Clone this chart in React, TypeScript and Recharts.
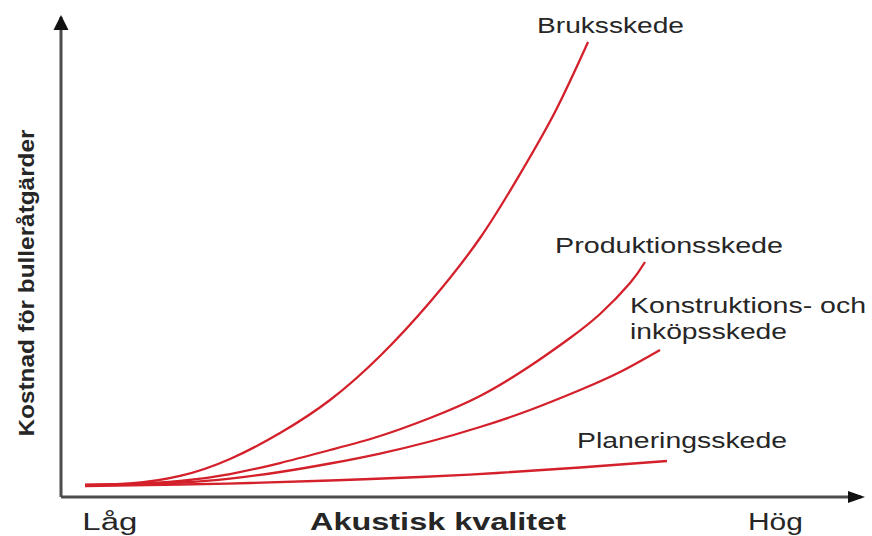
import React from 'react';
import { LineChart, Line, XAxis, YAxis, ReferenceDot, LabelList, Label } from 'recharts';

// Akustisk kvalitet (q) vs kostnad (c), relative units 0..100
const bruksskede = [
  { q: 3, c: 2.5 }, { q: 8.63, c: 2.81 }, { q: 14.88, c: 4.38 }, { q: 21.13, c: 7.92 },
  { q: 27.38, c: 13.33 }, { q: 33.63, c: 20.21 }, { q: 39.88, c: 29.38 }, { q: 46.13, c: 40.63 },
  { q: 52.38, c: 53.96 }, { q: 57.38, c: 67.29 }, { q: 61.75, c: 80.21 }, { q: 65.88, c: 94.79 },
];
const produktionsskede = [
  { q: 3, c: 2.5 }, { q: 8.63, c: 2.71 }, { q: 14.88, c: 3.33 }, { q: 21.13, c: 4.79 },
  { q: 27.38, c: 7.08 }, { q: 33.63, c: 9.79 }, { q: 39.88, c: 12.71 }, { q: 46.13, c: 16.46 },
  { q: 52.38, c: 21.04 }, { q: 58.63, c: 27.29 }, { q: 63.63, c: 33.13 }, { q: 67.38, c: 38.13 },
  { q: 71.13, c: 44.58 }, { q: 73.0, c: 48.96 },
];
const konstruktionsskede = [
  { q: 3, c: 2.5 }, { q: 8.63, c: 2.6 }, { q: 14.88, c: 3.02 }, { q: 21.13, c: 3.85 },
  { q: 27.38, c: 5.21 }, { q: 33.63, c: 6.98 }, { q: 39.88, c: 9.06 }, { q: 46.13, c: 11.56 },
  { q: 52.38, c: 14.58 }, { q: 58.63, c: 18.13 }, { q: 64.88, c: 22.29 }, { q: 69.88, c: 26.04 },
  { q: 74.88, c: 30.63 },
];
const planeringsskede = [
  { q: 3, c: 2.29 }, { q: 14.88, c: 2.6 }, { q: 23.63, c: 2.92 }, { q: 33.63, c: 3.44 },
  { q: 44.88, c: 4.17 }, { q: 54.5, c: 5.0 }, { q: 64.88, c: 6.15 }, { q: 75.75, c: 7.5 },
];

const seriesLabels = [
  ['Bruksskede'],
  ['Produktionsskede'],
  ['Konstruktions- och', 'inköpsskede'],
  ['Planeringsskede'],
];
const xTickValues = [6.1, 89.3];
const xTickLabels = ['Låg', 'Hög'];
const xAxisTitle = 'Akustisk kvalitet';
const yAxisTitle = 'Kostnad för bulleråtgärder';

const FONT = '"Liberation Sans", Arial, Helvetica, sans-serif';
const TEXT = '#262626';
const RED = '#d4202a';
const AXIS = '#4d4d4d';

type LabelStyle = { dx: number; dy: number[]; widths: number[] };
const labelStyles: LabelStyle[] = [
  { dx: -51, dy: [-9], widths: [147] },
  { dx: -90, dy: [-9], widths: [228] },
  { dx: -30, dy: [-37, -11], widths: [236, 157] },
  { dx: -90, dy: [-13], widths: [210] },
];

const makeEndLabel = (si: number, lastIndex: number) => (props: any) => {
  const { x, y, index } = props;
  if (index !== lastIndex) return null;
  const st = labelStyles[si];
  return (
    <g>
      {seriesLabels[si].map((t, i) => (
        <text
          key={i}
          x={x + st.dx}
          y={y + st.dy[i]}
          fontFamily={FONT}
          fontSize={22}
          fill={TEXT}
          textLength={st.widths[i]}
          lengthAdjust="spacingAndGlyphs"
        >
          {t}
        </text>
      ))}
    </g>
  );
};

const XTick = (props: any) => {
  const { x, y, payload } = props;
  const idx = xTickValues.indexOf(payload.value);
  const label = xTickLabels[idx] ?? '';
  const w = 55;
  return (
    <text
      x={x - w / 2}
      y={y + 33}
      fontFamily={FONT}
      fontSize={23}
      fill={TEXT}
      textLength={w}
      lengthAdjust="spacingAndGlyphs"
    >
      {label}
    </text>
  );
};

const XTitle = (props: any) => {
  const vb = props.viewBox || { x: 0, y: 0 };
  return (
    <text
      x={vb.x + 249}
      y={vb.y + 33}
      fontFamily={FONT}
      fontSize={23}
      fontWeight="bold"
      fill={TEXT}
      textLength={256}
      lengthAdjust="spacingAndGlyphs"
    >
      {xAxisTitle}
    </text>
  );
};

const YTitle = (props: any) => {
  const vb = props.viewBox || { x: 0, y: 0 };
  const cx = vb.x + 34;
  const cy = vb.y + 266;
  return (
    <text
      x={cx}
      y={cy}
      transform={`rotate(-90 ${cx} ${cy})`}
      textAnchor="middle"
      fontFamily={FONT}
      fontSize={22}
      fontWeight="bold"
      fill={TEXT}
      textLength={307}
      lengthAdjust="spacingAndGlyphs"
    >
      {yAxisTitle}
    </text>
  );
};

const ArrowRight = (props: any) => {
  const { cx, cy } = props;
  return <polygon points={`${cx + 4},${cy} ${cx - 13},${cy - 6} ${cx - 13},${cy + 6}`} fill="#111" />;
};
const ArrowUp = (props: any) => {
  const { cx, cy } = props;
  return <polygon points={`${cx},${cy - 2} ${cx - 7.5},${cy + 13} ${cx + 7.5},${cy + 13}`} fill="#111" />;
};

const series = [bruksskede, produktionsskede, konstruktionsskede, planeringsskede];

export default function App() {
  return (
    <div style={{ position: 'absolute', left: 0, top: 0, width: 872, height: 536, background: '#fff' }}>
      <LineChart width={872} height={536} margin={{ top: 17, right: 11, bottom: 0, left: 0 }}>
        <XAxis
          dataKey="q"
          type="number"
          domain={[0, 100]}
          ticks={xTickValues}
          interval={0}
          height={39}
          tickSize={0}
          tickMargin={0}
          tickLine={false}
          tick={<XTick />}
          axisLine={{ stroke: AXIS, strokeWidth: 3 }}
          allowDataOverflow
        >
          <Label content={<XTitle />} />
        </XAxis>
        <YAxis
          type="number"
          domain={[0, 100]}
          width={61}
          tick={false}
          tickLine={false}
          axisLine={{ stroke: AXIS, strokeWidth: 3 }}
          allowDataOverflow
        >
          <Label content={<YTitle />} />
        </YAxis>
        {series.map((d, si) => (
          <Line
            key={si}
            data={d}
            dataKey="c"
            type="natural"
            stroke={RED}
            strokeWidth={2.3}
            dot={false}
            activeDot={false}
            isAnimationActive={false}
          >
            <LabelList dataKey="c" content={makeEndLabel(si, d.length - 1)} />
          </Line>
        ))}
        <ReferenceDot x={100} y={0} r={0} ifOverflow="visible" shape={<ArrowRight />} />
        <ReferenceDot x={0} y={100} r={0} ifOverflow="visible" shape={<ArrowUp />} />
      </LineChart>
    </div>
  );
}
